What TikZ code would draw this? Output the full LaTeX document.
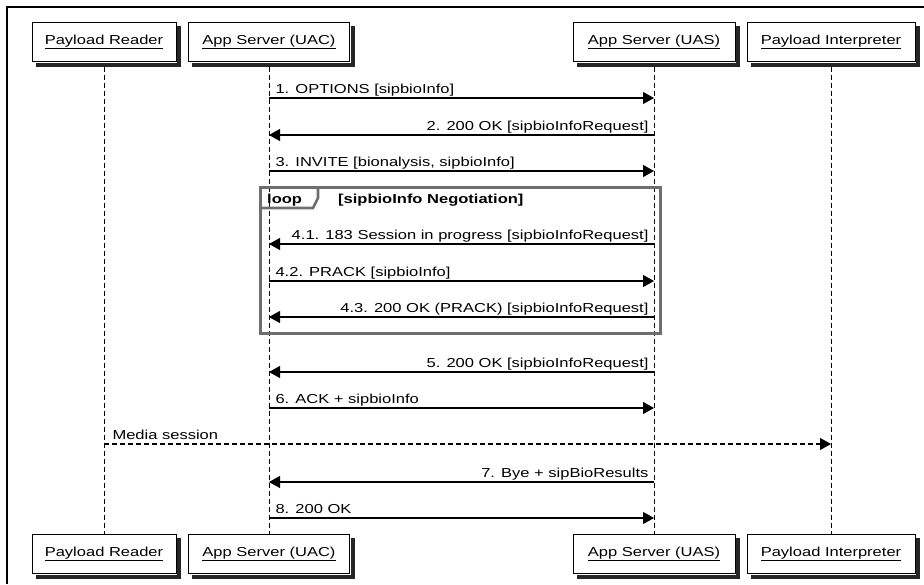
\documentclass[tikz,border=0pt]{standalone}
\usepackage{fontspec}
\setmainfont{Liberation Sans}[FakeStretch=1.27]
\usepackage{tikz}
\usetikzlibrary{arrows.meta,positioning,calc}
\definecolor{loopgray}{HTML}{6E6E6E}
\definecolor{shadowgray}{HTML}{262626}

\begin{document}
\begin{tikzpicture}[
    x=1pt,y=-1pt,
    font=\fontsize{13}{15}\selectfont,
    part/.style={draw,line width=1pt,fill=white,minimum height=39pt,inner xsep=0pt},
    life/.style={line width=0.9pt,dash pattern=on 5pt off 3pt},
    msg/.style={-{Triangle[length=11pt,width=12pt]},line width=1.1pt},
    lblR/.style={anchor=base west,inner sep=0pt,xshift=6pt,yshift=5pt},
    lblL/.style={anchor=base east,inner sep=0pt,xshift=-5pt,yshift=5pt}
]
\useasboundingbox (0,0) rectangle (924,584);
\draw[line width=1.2pt] (924,7) -- (7,7) -- (7,584);

% participants
\node[part,minimum width=144pt] (rdrT) at (104,42) {\underline{Payload Reader}};
\node[part,minimum width=161pt] (uacT) at (269,42) {\underline{App Server (UAC)}};
\node[part,minimum width=162pt] (uasT) at (654,42) {\underline{App Server (UAS)}};
\node[part,minimum width=168pt] (intT) at (831,42) {\underline{Payload Interpreter}};

\node[part,minimum width=144pt] (rdrB) at (104,554) {\underline{Payload Reader}};
\node[part,minimum width=161pt] (uacB) at (269,554) {\underline{App Server (UAC)}};
\node[part,minimum width=162pt] (uasB) at (654,554) {\underline{App Server (UAS)}};
\node[part,minimum width=168pt] (intB) at (831,554) {\underline{Payload Interpreter}};

% shadows
\foreach \b in {rdrT,uacT,uasT,intT,rdrB,uacB,uasB,intB}{
    \fill[shadowgray] ($(\b.north east)+(0.5,4)$) rectangle ($(\b.south east)+(4.5,4.5)$);
    \fill[shadowgray] ($(\b.south west)+(4,0.5)$) rectangle ($(\b.south east)+(4.5,4.5)$);
}

% lifelines
\foreach \p in {rdr,uac,uas,int}
    \draw[life] ($(\p T.south)+(0,4.5)$) -- (\p B.north);

% rows
\foreach \n/\y in {1/98,2/135,3/171,41/244,42/281,43/317,5/372,6/408,ms/444,7/482,8/518}
    \coordinate (r\n) at (0,\y);

% loop frame
\draw[loopgray,line width=3pt] (260,187) rectangle (660,333);
\draw[loopgray,line width=2.6pt] (260,208) -- (313,208) -- (318,198) -- (318,187);
\node[anchor=base west,inner sep=0pt,font=\fontsize{13}{15}\selectfont\bfseries] (looptag) at (267,203) {loop};
\node[anchor=base west,inner sep=0pt,font=\fontsize{13}{15}\selectfont\bfseries] (loopcond) at (338,203) {[sipbioInfo Negotiation]};

% messages
\draw[msg] (uacT |- r1) -- node[pos=0,lblR] {1. OPTIONS [sipbioInfo]} (uasT |- r1);
\draw[msg] (uasT |- r2) -- node[pos=0,lblL] {2. 200 OK [sipbioInfoRequest]} (uacT |- r2);
\draw[msg] (uacT |- r3) -- node[pos=0,lblR] {3. INVITE [bionalysis, sipbioInfo]} (uasT |- r3);
\draw[msg] (uasT |- r41) -- node[pos=0,lblL] {4.1. 183 Session in progress [sipbioInfoRequest]} (uacT |- r41);
\draw[msg] (uacT |- r42) -- node[pos=0,lblR] {4.2. PRACK [sipbioInfo]} (uasT |- r42);
\draw[msg] (uasT |- r43) -- node[pos=0,lblL] {4.3. 200 OK (PRACK) [sipbioInfoRequest]} (uacT |- r43);
\draw[msg] (uasT |- r5) -- node[pos=0,lblL] {5. 200 OK [sipbioInfoRequest]} (uacT |- r5);
\draw[msg] (uacT |- r6) -- node[pos=0,lblR] {6. ACK + sipbioInfo} (uasT |- r6);
\draw[msg,dash pattern=on 5pt off 3pt] (rdrT |- rms) -- node[pos=0,lblR,xshift=2pt] {Media session} (intT |- rms);
\draw[msg] (uasT |- r7) -- node[pos=0,lblL] {7. Bye + sipBioResults} (uacT |- r7);
\draw[msg] (uacT |- r8) -- node[pos=0,lblR] {8. 200 OK} (uasT |- r8);
\end{tikzpicture}
\end{document}
